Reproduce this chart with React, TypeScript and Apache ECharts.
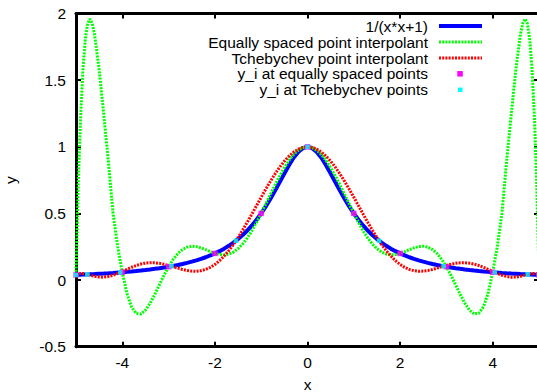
import React, { useEffect, useRef } from "react";
import * as echarts from "echarts";

const xs = [
  -5, -4.95, -4.9, -4.85, -4.8, -4.75, -4.7, -4.65, -4.6, -4.5, -4.4, -4.3, -4.2, -4.1, -4,
  -3.9, -3.8, -3.7, -3.6, -3.5, -3.4, -3.3, -3.2, -3.1, -3, -2.9, -2.8, -2.7, -2.6, -2.5,
  -2.4, -2.3, -2.2, -2.1, -2, -1.9, -1.8, -1.7, -1.6, -1.5, -1.4, -1.3, -1.2, -1.1, -1,
  -0.9, -0.8, -0.7, -0.6, -0.5, -0.4, -0.3, -0.2, -0.1, 0,
  0.1, 0.2, 0.3, 0.4, 0.5, 0.6, 0.7, 0.8, 0.9, 1, 1.1, 1.2, 1.3, 1.4, 1.5, 1.6, 1.7, 1.8, 1.9, 2,
  2.1, 2.2, 2.3, 2.4, 2.5, 2.6, 2.7, 2.8, 2.9, 3, 3.1, 3.2, 3.3, 3.4, 3.5, 3.6, 3.7, 3.8, 3.9, 4,
  4.1, 4.2, 4.3, 4.4, 4.5, 4.6, 4.65, 4.7, 4.75, 4.8, 4.85, 4.9, 4.95, 5,
];

const runge = [
  0.0385, 0.0392, 0.04, 0.0408, 0.0416, 0.0424, 0.0433, 0.0442, 0.0451, 0.0471, 0.0491, 0.0513, 0.0536, 0.0561, 0.0588,
  0.0617, 0.0648, 0.0681, 0.0716, 0.0755, 0.0796, 0.0841, 0.089, 0.0943, 0.1, 0.1063, 0.1131, 0.1206, 0.1289, 0.1379,
  0.1479, 0.159, 0.1712, 0.1848, 0.2, 0.2169, 0.2358, 0.2571, 0.2809, 0.3077, 0.3378, 0.3717, 0.4098, 0.4525, 0.5,
  0.5525, 0.6098, 0.6711, 0.7353, 0.8, 0.8621, 0.9174, 0.9615, 0.9901, 1,
  0.9901, 0.9615, 0.9174, 0.8621, 0.8, 0.7353, 0.6711, 0.6098, 0.5525, 0.5, 0.4525, 0.4098, 0.3717, 0.3378, 0.3077, 0.2809, 0.2571, 0.2358, 0.2169, 0.2,
  0.1848, 0.1712, 0.159, 0.1479, 0.1379, 0.1289, 0.1206, 0.1131, 0.1063, 0.1, 0.0943, 0.089, 0.0841, 0.0796, 0.0755, 0.0716, 0.0681, 0.0648, 0.0617, 0.0588,
  0.0561, 0.0536, 0.0513, 0.0491, 0.0471, 0.0451, 0.0442, 0.0433, 0.0424, 0.0416, 0.0408, 0.04, 0.0392, 0.0385,
];

const equallySpaced = [
  0.0385, 0.7261, 1.2303, 1.581, 1.8043, 1.9236, 1.959, 1.9279, 1.8459, 1.5787, 1.2402, 0.8881, 0.5018, 0.2515, 0.0588,
  -0.1007, -0.2013, -0.2496, -0.2546, -0.2262, -0.1743, -0.1083, -0.0363, 0.0349, 0.1, 0.1554, 0.1987, 0.2292, 0.2472, 0.2538,
  0.251, 0.2415, 0.2278, 0.2131, 0.2, 0.1912, 0.1888, 0.1946, 0.2099, 0.2353, 0.271, 0.3165, 0.3708, 0.4326, 0.5,
  0.571, 0.6432, 0.7142, 0.7817, 0.8434, 0.8971, 0.9409, 0.9733, 0.9933, 1,
  0.9933, 0.9733, 0.9409, 0.8971, 0.8434, 0.7817, 0.7142, 0.6432, 0.571, 0.5, 0.4326, 0.3708, 0.3165, 0.271, 0.2353, 0.2099, 0.1946, 0.1888, 0.1912, 0.2,
  0.2131, 0.2278, 0.2415, 0.251, 0.2538, 0.2472, 0.2292, 0.1987, 0.1554, 0.1, 0.0349, -0.0363, -0.1083, -0.1743, -0.2262, -0.2546, -0.2496, -0.2013, -0.1007, 0.0588,
  0.2515, 0.5018, 0.8881, 1.2402, 1.5787, 1.8459, 1.9279, 1.959, 1.9236, 1.8043, 1.581, 1.2303, 0.7261, 0.0385,
];

const tchebychev = [
  0.0385, 0.0466, 0.0497, 0.0491, 0.0462, 0.0419, 0.037, 0.0321, 0.0279, 0.0223, 0.0218, 0.0266, 0.0362, 0.0494, 0.0647,
  0.0807, 0.096, 0.1093, 0.1199, 0.1269, 0.1302, 0.1297, 0.1258, 0.119, 0.1099, 0.0997, 0.0892, 0.0795, 0.0718, 0.0671,
  0.0662, 0.0702, 0.0797, 0.0951, 0.1169, 0.1452, 0.1801, 0.2209, 0.2675, 0.3191, 0.3749, 0.4343, 0.4959, 0.5586, 0.6213,
  0.6827, 0.7416, 0.7969, 0.8473, 0.8919, 0.9297, 0.96, 0.9821, 0.9955, 1,
  0.9955, 0.9821, 0.96, 0.9297, 0.8919, 0.8473, 0.7969, 0.7416, 0.6827, 0.6213, 0.5586, 0.4959, 0.4343, 0.3749, 0.3191, 0.2675, 0.2209, 0.1801, 0.1452, 0.1169,
  0.0951, 0.0797, 0.0702, 0.0662, 0.0671, 0.0718, 0.0795, 0.0892, 0.0997, 0.1099, 0.119, 0.1258, 0.1297, 0.1302, 0.1269, 0.1199, 0.1093, 0.096, 0.0807, 0.0647,
  0.0494, 0.0362, 0.0266, 0.0218, 0.0223, 0.0279, 0.0321, 0.037, 0.0419, 0.0462, 0.0491, 0.0497, 0.0466, 0.0385,
];

const equalNodesX = [-5, -4, -3, -2, -1, 0, 1, 2, 3, 4, 5];
const equalNodesY = [0.0385, 0.0588, 0.1, 0.2, 0.5, 1, 0.5, 0.2, 0.1, 0.0588, 0.0385];
const tchebNodesX = [-5, -4.7553, -4.0451, -2.9389, -1.5451, 0, 1.5451, 2.9389, 4.0451, 4.7553, 5];
const tchebNodesY = [0.0385, 0.0424, 0.0576, 0.1038, 0.2952, 1, 0.2952, 0.1038, 0.0576, 0.0424, 0.0385];

const xTicks = [-4, -2, 0, 2, 4];
const seriesNames = [
  "1/(x*x+1)",
  "Equally spaced point interpolant",
  "Tchebychev point interpolant",
  "y_i at equally spaced points",
  "y_i at Tchebychev points",
];

export default function App() {
  const ref = useRef<HTMLDivElement>(null);
  useEffect(() => {
    const chart = echarts.init(ref.current as HTMLDivElement, null, { renderer: "svg" });
    const font = "'Liberation Sans', Arial, Helvetica, sans-serif";
    const fs = 15.5;
    const pair = (a: number[], b: number[]) => a.map((x, i) => [x, b[i]]);
    const lineAxis = { show: true, onZero: false, lineStyle: { color: "#000", width: 3 } };
    const tick = (custom?: number[]) => ({
      show: true,
      inside: true,
      length: 5,
      ...(custom ? { customValues: custom } : {}),
      lineStyle: { color: "#000", width: 2 },
    });
    const dotted = [2, 1.2];

    const legendRows = [26, 42, 58, 73.8, 89.8];
    const legendRight = 428;
    const sx1 = 439;
    const sx2 = 482;
    const graphics: any[] = [];
    seriesNames.forEach((name, i) => {
      graphics.push({
        type: "text",
        x: legendRight,
        y: legendRows[i],
        style: {
          text: name,
          align: "right",
          verticalAlign: "middle",
          fill: "#000",
          font: `${fs}px ${font}`,
        },
        z: 100,
      });
    });
    graphics.push({ type: "line", shape: { x1: sx1, y1: legendRows[0], x2: sx2, y2: legendRows[0] }, style: { stroke: "#0000ff", lineWidth: 4 }, z: 100 });
    graphics.push({ type: "line", shape: { x1: sx1, y1: legendRows[1], x2: sx2, y2: legendRows[1] }, style: { stroke: "#00ff00", lineWidth: 3, lineDash: dotted }, z: 100 });
    graphics.push({ type: "line", shape: { x1: sx1, y1: legendRows[2], x2: sx2, y2: legendRows[2] }, style: { stroke: "#ff0000", lineWidth: 3, lineDash: dotted }, z: 100 });
    graphics.push({ type: "rect", shape: { x: 457.3, y: legendRows[3] - 2.75, width: 5.5, height: 5.5 }, style: { fill: "#ff00ff" }, z: 100 });
    graphics.push({ type: "rect", shape: { x: 458, y: legendRows[4] - 2.25, width: 4.5, height: 4.5 }, style: { fill: "#00ffff" }, z: 100 });

    chart.setOption({
      animation: false,
      grid: { left: 76, right: -2, top: 13.5, bottom: 45.3, containLabel: false, outerBoundsMode: "none" },
      xAxis: [
        {
          type: "value",
          min: -5,
          max: 5,
          position: "bottom",
          name: "x",
          nameLocation: "middle",
          nameGap: 30,
          nameTextStyle: { fontSize: fs, lineHeight: 15, color: "#000", fontFamily: font },
          axisLine: lineAxis,
          axisTick: tick(xTicks),
          axisLabel: { customValues: xTicks, fontSize: fs, color: "#000", fontFamily: font, margin: 8 },
          splitLine: { show: false },
        },
        {
          type: "value",
          min: -5,
          max: 5,
          position: "top",
          axisLine: lineAxis,
          axisTick: tick(xTicks),
          axisLabel: { show: false, customValues: xTicks },
          splitLine: { show: false },
        },
      ],
      yAxis: [
        {
          type: "value",
          min: -0.5,
          max: 2,
          interval: 0.5,
          position: "left",
          name: "y",
          nameLocation: "middle",
          nameRotate: 90,
          nameGap: 58,
          nameTextStyle: { fontSize: fs, color: "#000", fontFamily: font },
          axisLine: lineAxis,
          axisTick: tick(),
          axisLabel: { fontSize: fs, color: "#000", fontFamily: font, margin: 10 },
          splitLine: { show: false },
        },
        {
          type: "value",
          min: -0.5,
          max: 2,
          interval: 0.5,
          position: "right",
          axisLine: lineAxis,
          axisTick: tick(),
          axisLabel: { show: false },
          splitLine: { show: false },
        },
      ],
      graphic: graphics,
      series: [
        {
          name: seriesNames[0],
          type: "line",
          data: pair(xs, runge),
          showSymbol: false,
          symbol: "none",
          lineStyle: { color: "#0000ff", width: 4 },
          z: 2,
        },
        {
          name: seriesNames[1],
          type: "line",
          data: pair(xs, equallySpaced),
          showSymbol: false,
          symbol: "none",
          lineStyle: { color: "#00ff00", width: 3, type: dotted },
          z: 3,
        },
        {
          name: seriesNames[2],
          type: "line",
          data: pair(xs, tchebychev),
          showSymbol: false,
          symbol: "none",
          lineStyle: { color: "#ff0000", width: 3, type: dotted },
          z: 4,
        },
        {
          name: seriesNames[3],
          type: "scatter",
          data: pair(equalNodesX, equalNodesY),
          symbol: "rect",
          symbolSize: 5.5,
          itemStyle: { color: "#ff00ff" },
          z: 5,
        },
        {
          name: seriesNames[4],
          type: "scatter",
          data: pair(tchebNodesX, tchebNodesY),
          symbol: "rect",
          symbolSize: 4.5,
          itemStyle: { color: "#00ffff" },
          z: 6,
        },
      ],
    });
    return () => chart.dispose();
  }, []);
  return (
    <div
      ref={ref}
      style={{ position: "absolute", left: 0, top: 0, width: 537, height: 392, background: "#fff" }}
    />
  );
}
